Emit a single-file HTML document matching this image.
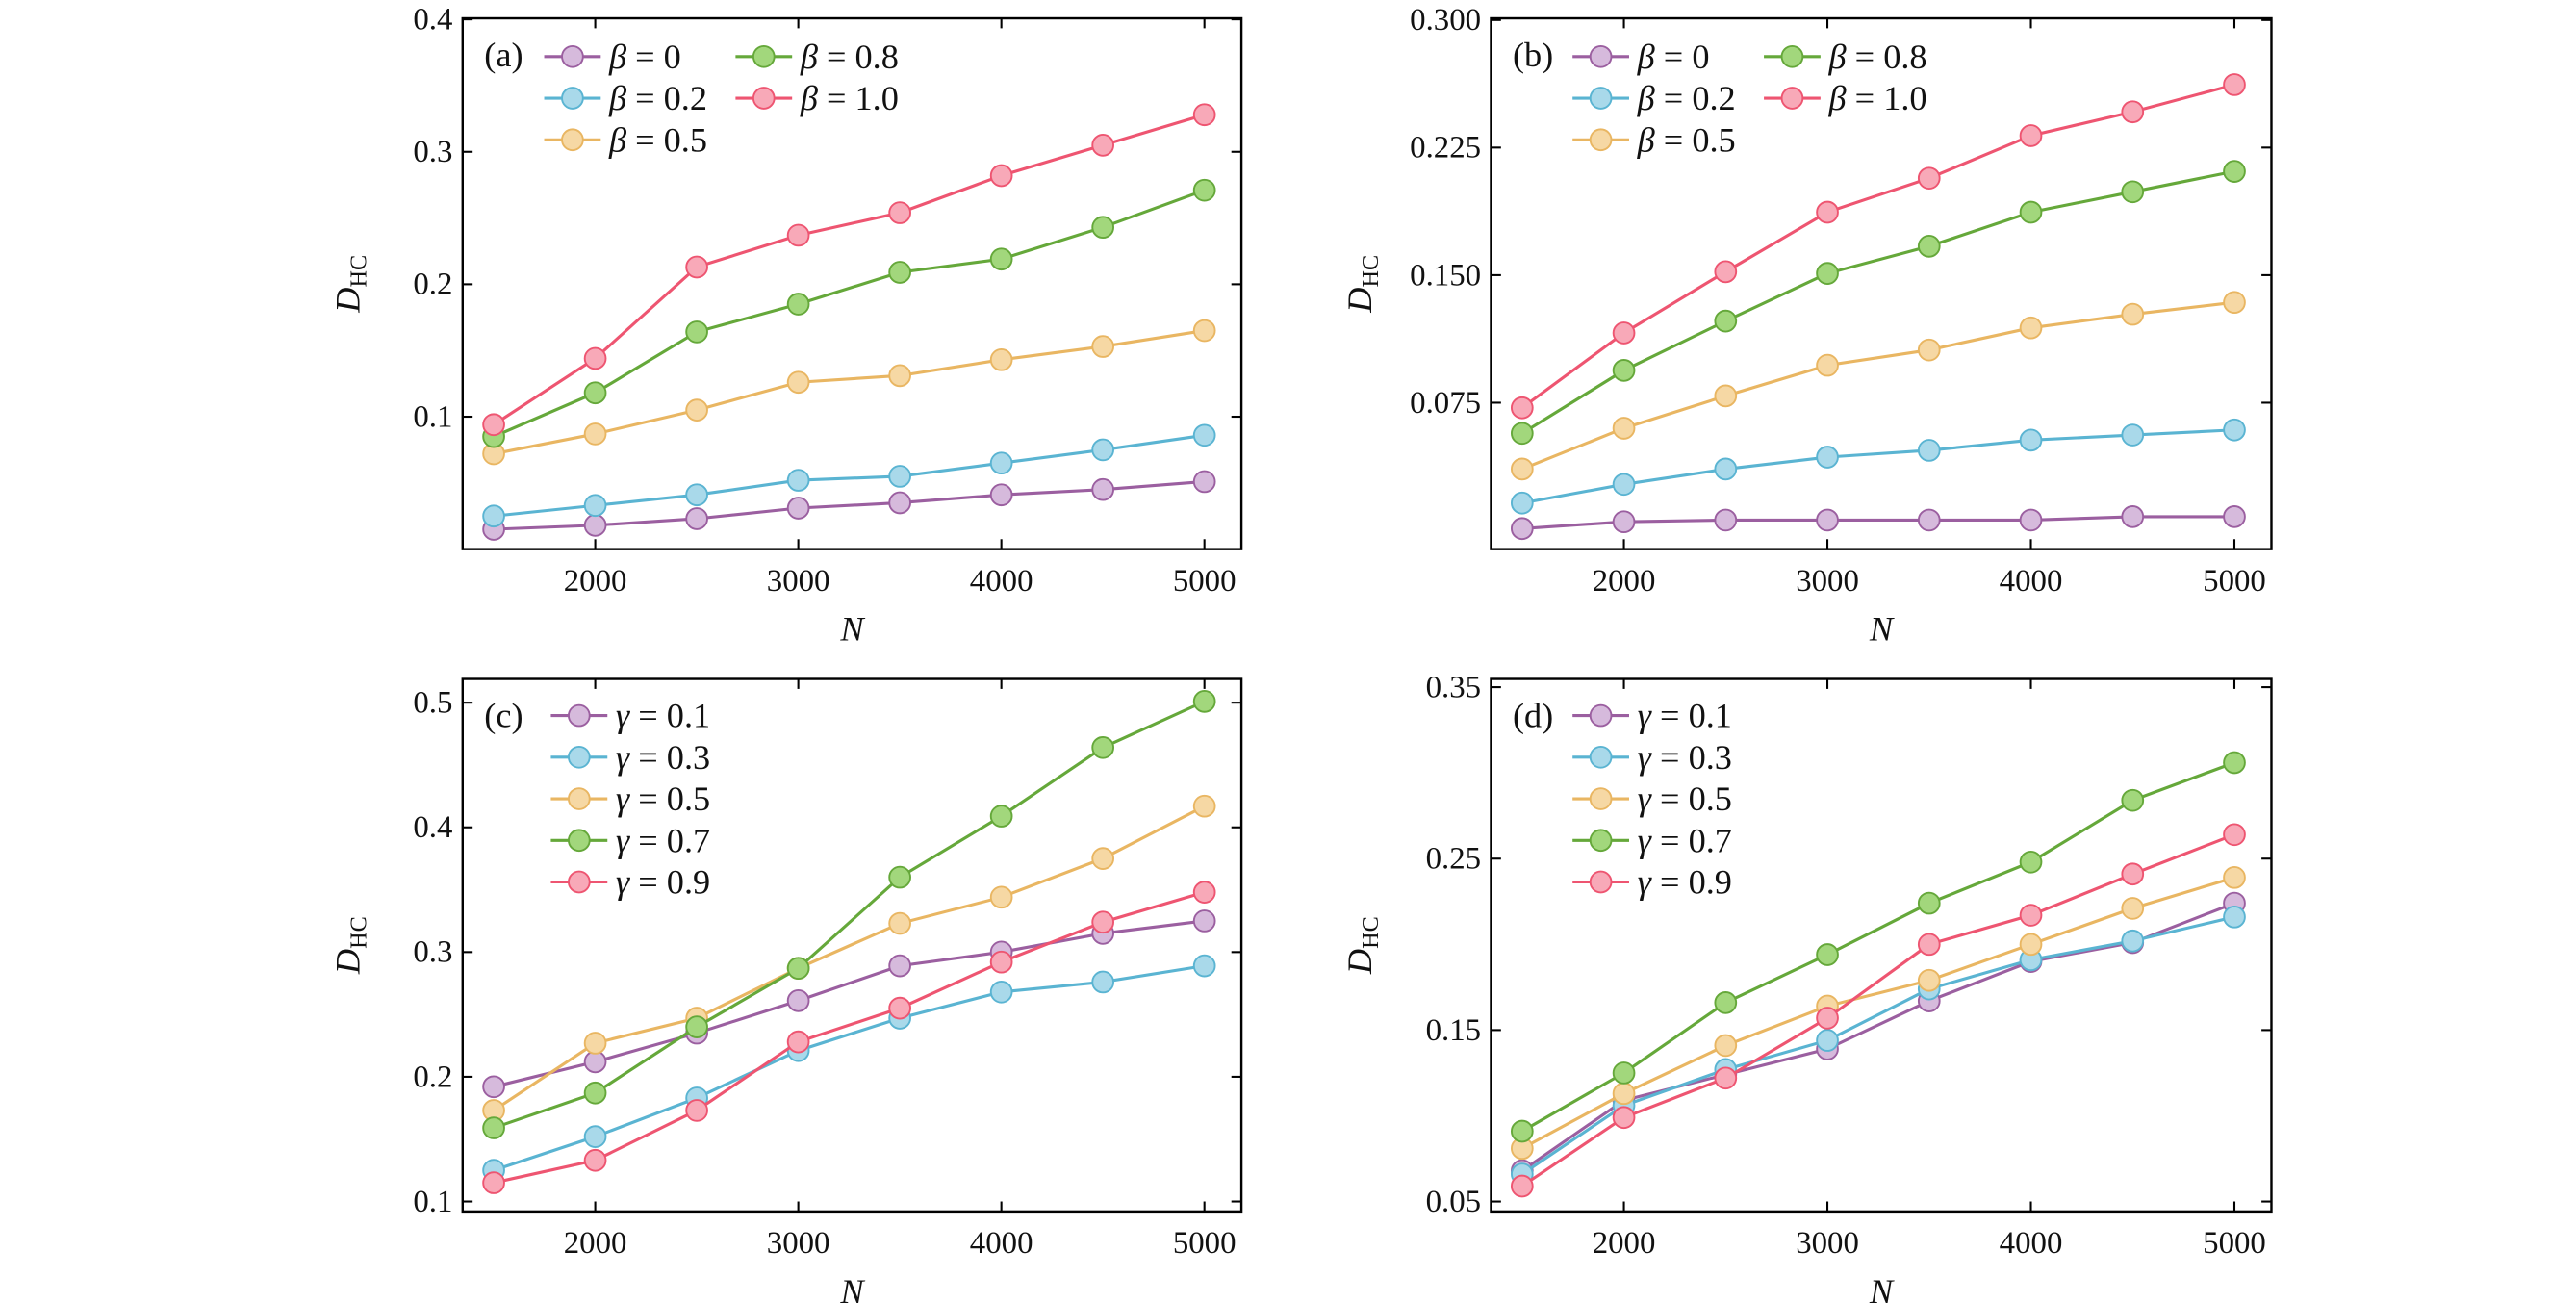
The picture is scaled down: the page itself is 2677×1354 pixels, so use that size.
<!DOCTYPE html>
<html><head><meta charset="utf-8"><style>
html,body{margin:0;padding:0;background:#fff;}
svg{display:block;}
text{font-family:"Liberation Serif","DejaVu Serif",serif;fill:#111;}
</style></head><body>
<svg id="chart" width="2677" height="1354" viewBox="0 0 1548 783" xmlns="http://www.w3.org/2000/svg"></svg>
<script>
const xValues=[1500,2000,2500,3000,3500,4000,4500,5000];
const xTicks=[2000,3000,4000,5000];
const colorsLine=['#9b5fa0','#5ab4d2','#e9b662','#65a83a','#ee5571'];
const colorsFill=['#d6badc','#a9d9ea','#f6d8a4','#a2d77c','#f8a9b8'];
const aLabels=['0','0.2','0.5','0.8','1.0'];
const aB0=[0.015,0.018,0.023,0.031,0.035,0.041,0.045,0.051];
const aB2=[0.025,0.033,0.041,0.052,0.055,0.065,0.075,0.086];
const aB5=[0.072,0.087,0.105,0.126,0.131,0.143,0.153,0.165];
const aB8=[0.085,0.118,0.164,0.185,0.209,0.219,0.243,0.271];
const aB10=[0.094,0.144,0.213,0.237,0.254,0.282,0.305,0.328];
const aYTicks=[0.1,0.2,0.3,0.4];
const bB0=[0.001,0.005,0.006,0.006,0.006,0.006,0.008,0.008];
const bB2=[0.016,0.027,0.036,0.043,0.047,0.053,0.056,0.059];
const bB5=[0.036,0.060,0.079,0.097,0.106,0.119,0.127,0.134];
const bB8=[0.057,0.094,0.123,0.151,0.167,0.187,0.199,0.211];
const bB10=[0.072,0.116,0.152,0.187,0.207,0.232,0.246,0.262];
const bYTicks=[0.075,0.150,0.225,0.300];
const gLabels=['0.1','0.3','0.5','0.7','0.9'];
const cG1=[0.192,0.212,0.235,0.261,0.289,0.300,0.315,0.325];
const cG3=[0.125,0.152,0.183,0.221,0.247,0.268,0.276,0.289];
const cG5=[0.173,0.227,0.247,0.287,0.323,0.344,0.375,0.417];
const cG7=[0.159,0.187,0.240,0.287,0.360,0.409,0.464,0.501];
const cG9=[0.115,0.133,0.173,0.228,0.255,0.292,0.324,0.348];
const cYTicks=[0.1,0.2,0.3,0.4,0.5];
const dG1=[0.068,0.109,0.124,0.139,0.167,0.190,0.201,0.224];
const dG3=[0.066,0.106,0.127,0.144,0.174,0.191,0.202,0.216];
const dG5=[0.081,0.113,0.141,0.164,0.179,0.200,0.221,0.239];
const dG7=[0.091,0.125,0.166,0.194,0.224,0.248,0.284,0.306];
const dG9=[0.059,0.099,0.122,0.157,0.200,0.217,0.241,0.264];
const dYTicks=[0.05,0.15,0.25,0.35];

const NS='http://www.w3.org/2000/svg';
const svg=document.getElementById('chart');
function mk(tag,attrs,parent){const e=document.createElementNS(NS,tag);for(const k in attrs)e.setAttribute(k,attrs[k]);(parent||svg).appendChild(e);return e;}

function panel(p){
  const g=mk('g',{});
  
  
  const xs=v=>p.x0+(v-1347)/(5182-1347)*(p.x1-p.x0);
  const ys=v=>p.yb+(v-p.ymin)/(p.ymax-p.ymin)*(p.yt-p.yb);
  const box=mk('rect',{x:p.x0,y:p.yt,width:p.x1-p.x0,height:p.yb-p.yt,fill:'none',stroke:'#000','stroke-width':1.4},g);
  
  
  xTicks.forEach(t=>{
    const x=xs(t);
    mk('line',{x1:x,x2:x,y1:p.yb,y2:p.yb-6,stroke:'#000','stroke-width':1.2},g);
    mk('line',{x1:x,x2:x,y1:p.yt,y2:p.yt+6,stroke:'#000','stroke-width':1.2},g);
    const tx=mk('text',{x:x,y:p.yb+25,'text-anchor':'middle','font-size':19},g);
    tx.textContent=t;
    
    
  });
  p.yticks.forEach(t=>{
    const y=ys(t);
    mk('line',{x1:p.x0,x2:p.x0+6,y1:y,y2:y,stroke:'#000','stroke-width':1.2},g);
    mk('line',{x1:p.x1,x2:p.x1-6,y1:y,y2:y,stroke:'#000','stroke-width':1.2},g);
    const tx=mk('text',{x:p.x0-6,y:y+6,'text-anchor':'end','font-size':19},g);
    tx.textContent=t.toFixed(p.dec);
    
    
  });
  const xl=mk('text',{x:(p.x0+p.x1)/2,y:p.yb+55,'text-anchor':'middle','font-size':21,'font-style':'italic'},g);
  xl.textContent='N';
  
  
  const yl=mk('text',{transform:'translate('+(p.x0-p.ylo)+','+((p.yt+p.yb)/2)+') rotate(-90)','text-anchor':'middle','font-size':21},g);
  yl.innerHTML='<tspan font-style="italic">D</tspan><tspan font-size="14" dy="4">HC</tspan>';
  
  
  const pl=mk('text',{x:p.x0+13,y:p.yt+29,'font-size':21},g);
  pl.textContent='('+p.id+')';
  
  
  p.series.forEach((s,i)=>{
    const pts=s.map((v,j)=>xs(xValues[j]).toFixed(2)+','+ys(v).toFixed(2)).join(' ');
    const l=mk('polyline',{points:pts,fill:'none',stroke:colorsLine[i],'stroke-width':1.8},g);
    
    
    s.forEach((v,j)=>{
      const c=mk('circle',{cx:xs(xValues[j]),cy:ys(v),r:6.3,fill:colorsFill[i],stroke:colorsLine[i],'stroke-width':1.1},g);
      
      
    });
  });
  p.labels.forEach((lab,i)=>{
    const lx=p.legPos[i][0],ly=p.legPos[i][1];
    const le=mk('g',{},g);
    
    
    mk('line',{x1:lx-17,x2:lx+17,y1:ly,y2:ly,stroke:colorsLine[i],'stroke-width':1.8},le);
    mk('circle',{cx:lx,cy:ly,r:6.3,fill:colorsFill[i],stroke:colorsLine[i],'stroke-width':1.1},le);
    const t=mk('text',{x:lx+22,y:ly+7,'font-size':21},le);
    t.innerHTML='<tspan font-style="italic">'+p.sym+'</tspan> = '+lab;
  });
}
panel({id:'a',x0:278,x1:746,yt:11,yb:330,ymin:0,ymax:0.4008,yticks:aYTicks,dec:1,ylo:62,
  series:[aB0,aB2,aB5,aB8,aB10],labels:aLabels,sym:'β',
  legPos:[[344,34],[344,59],[344,84],[459,34],[459,59]]});
panel({id:'b',x0:896,x1:1365,yt:11,yb:330,ymin:-0.0111,ymax:0.301,yticks:bYTicks,dec:3,ylo:72,
  series:[bB0,bB2,bB5,bB8,bB10],labels:aLabels,sym:'β',
  legPos:[[962,34],[962,59],[962,84],[1077,34],[1077,59]]});
panel({id:'c',x0:278,x1:746,yt:408,yb:728,ymin:0.092,ymax:0.519,yticks:cYTicks,dec:1,ylo:62,
  series:[cG1,cG3,cG5,cG7,cG9],labels:gLabels,sym:'γ',
  legPos:[[348,430],[348,455],[348,480],[348,505],[348,530]]});
panel({id:'d',x0:896,x1:1365,yt:408,yb:728,ymin:0.0442,ymax:0.3548,yticks:dYTicks,dec:2,ylo:72,
  series:[dG1,dG3,dG5,dG7,dG9],labels:gLabels,sym:'γ',
  legPos:[[962,430],[962,455],[962,480],[962,505],[962,530]]});
</script>
</body></html>
